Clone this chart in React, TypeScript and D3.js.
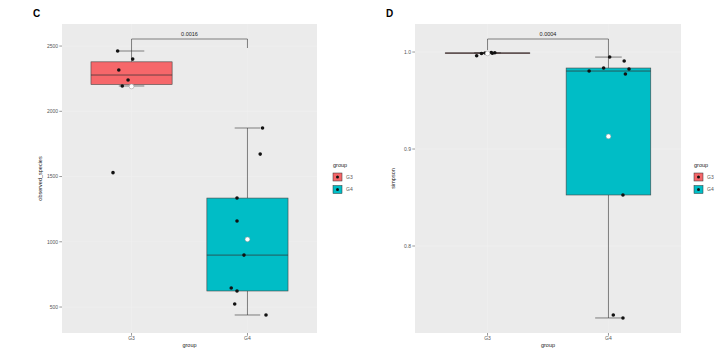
import React from 'react';
import * as d3 from 'd3';

const groups = ['G3', 'G4'];
const groupColors = ['#F6676A', '#00BDC6'];

// panel C: observed_species
const observedG3 = [2462, 2400, 2316, 2240, 2194, 1530];
const observedG3Jitter = [-0.12, 0.01, -0.11, -0.03, -0.08, -0.16];
const observedG4 = [1872, 1672, 1335, 1159, 898, 646, 623, 523, 439];
const observedG4Jitter = [0.13, 0.11, -0.09, -0.09, -0.03, -0.14, -0.09, -0.11, 0.16];
const observedTicks = [500, 1000, 1500, 2000, 2500];

// panel D: simpson
const simpsonG3 = [0.9995, 0.9992, 0.999, 0.9988, 0.9985, 0.9962];
const simpsonG3Jitter = [0.03, 0.06, -0.02, 0.04, -0.05, -0.09];
const simpsonG4 = [0.9948, 0.9907, 0.9835, 0.9825, 0.9804, 0.9773, 0.8526, 0.7289, 0.7258];
const simpsonG4Jitter = [0.01, 0.13, -0.04, 0.17, -0.16, 0.14, 0.12, 0.04, 0.12];
const simpsonTicks = [0.8, 0.9, 1.0];

const pValues = ['0.0016', '0.0004'];

function boxStats(vals: number[]) {
  const s = [...vals].sort(d3.ascending);
  const q1 = d3.quantileSorted(s, 0.25) as number;
  const med = d3.quantileSorted(s, 0.5) as number;
  const q3 = d3.quantileSorted(s, 0.75) as number;
  const iqr = q3 - q1;
  const lo = d3.min(s.filter(v => v >= q1 - 1.5 * iqr)) as number;
  const hi = d3.max(s.filter(v => v <= q3 + 1.5 * iqr)) as number;
  return { q1, med, q3, lo, hi, mean: d3.mean(s) as number };
}

type PanelProps = {
  letter: string;
  left: number;
  right: number;
  yDomain: [number, number];
  series: number[][];
  jitter: number[][];
  ticks: number[];
  fmt: (v: number) => string;
  yTitle: string;
  pLabel: string;
  tips: [number, number];
  legendX: number;
};

const top = 24;
const bottom = 333;
const tickColor = '#555';
const font = 'Liberation Sans, Arial';

function Panel(p: PanelProps) {
  const x = d3.scaleLinear().domain([0.4, 2.6]).range([p.left, p.right]);
  const y = d3.scaleLinear().domain(p.yDomain).range([bottom, top]);
  const unit = x(1) - x(0);
  const boxW = 0.7 * unit;
  const barW = 0.22 * unit;
  const stats = p.series.map(boxStats);
  const midY = (top + bottom) / 2;
  const bracketY = y(p.yDomain[1]) + 15;

  return (
    <g>
      <text x={p.left - 29} y={17} fontSize={10} fontWeight="bold" fontFamily={font}>
        {p.letter}
      </text>
      <rect x={p.left} y={top} width={p.right - p.left} height={bottom - top} fill="#EBEBEB" />
      {p.ticks.map(t => (
        <line key={'g' + t} x1={p.left} x2={p.right} y1={y(t)} y2={y(t)} stroke="#F1F1F1" strokeWidth={0.5} />
      ))}
      {groups.map((g, i) => (
        <line key={'gx' + g} x1={x(i + 1)} x2={x(i + 1)} y1={top} y2={bottom} stroke="#F1F1F1" strokeWidth={0.5} />
      ))}

      {/* boxes */}
      {stats.map((s, i) => {
        const cx = x(i + 1);
        return (
          <g key={'box' + i}>
            <line x1={cx} x2={cx} y1={y(s.hi)} y2={y(s.q3)} stroke="#333" strokeWidth={0.6} />
            <line x1={cx} x2={cx} y1={y(s.q1)} y2={y(s.lo)} stroke="#333" strokeWidth={0.6} />
            <line x1={cx - barW / 2} x2={cx + barW / 2} y1={y(s.hi)} y2={y(s.hi)} stroke="#333" strokeWidth={0.6} />
            <line x1={cx - barW / 2} x2={cx + barW / 2} y1={y(s.lo)} y2={y(s.lo)} stroke="#333" strokeWidth={0.6} />
            <rect
              x={cx - boxW / 2}
              y={y(s.q3)}
              width={boxW}
              height={Math.max(0.6, y(s.q1) - y(s.q3))}
              fill={groupColors[i]}
              stroke="#444"
              strokeWidth={0.6}
            />
            <line x1={cx - boxW / 2} x2={cx + boxW / 2} y1={y(s.med)} y2={y(s.med)} stroke="#333" strokeWidth={0.9} opacity={0.8} />
          </g>
        );
      })}

      {/* jittered points */}
      {p.series.map((vals, i) =>
        vals.map((v, j) => (
          <circle key={'pt' + i + '-' + j} cx={x(i + 1 + p.jitter[i][j])} cy={y(v)} r={1.8} fill="#111" />
        ))
      )}
      {stats.map((s, i) => (
        <circle key={'mean' + i} cx={x(i + 1)} cy={y(s.mean)} r={2.4} fill="#fff" stroke="#999" strokeWidth={0.5} />
      ))}

      {/* significance bracket */}
      <path
        d={`M${x(1)},${bracketY + p.tips[0]}V${bracketY}H${x(2)}V${bracketY + p.tips[1]}`}
        fill="none"
        stroke="#333"
        strokeWidth={0.6}
      />
      <text x={(x(1) + x(2)) / 2} y={bracketY - 3} fontSize={5.5} textAnchor="middle" fill="#222" fontFamily={font}>
        {p.pLabel}
      </text>

      {/* y axis */}
      {p.ticks.map(t => (
        <g key={'yt' + t}>
          <line x1={p.left - 2.7} x2={p.left} y1={y(t)} y2={y(t)} stroke="#333" strokeWidth={0.5} />
          <text x={p.left - 4} y={y(t)} dy="0.35em" fontSize={5} textAnchor="end" fill={tickColor} fontFamily={font}>
            {p.fmt(t)}
          </text>
        </g>
      ))}
      <text
        transform={`translate(${p.left - 20},${midY}) rotate(-90)`}
        fontSize={5.5}
        textAnchor="middle"
        fill="#222"
        fontFamily={font}
      >
        {p.yTitle}
      </text>

      {/* x axis */}
      {groups.map((g, i) => (
        <g key={'xt' + g}>
          <line x1={x(i + 1)} x2={x(i + 1)} y1={bottom} y2={bottom + 2.7} stroke="#333" strokeWidth={0.5} />
          <text x={x(i + 1)} y={bottom + 7} fontSize={5} textAnchor="middle" fill={tickColor} fontFamily={font}>
            {g}
          </text>
        </g>
      ))}
      <text x={(p.left + p.right) / 2} y={bottom + 14} fontSize={5.5} textAnchor="middle" fill="#222" fontFamily={font}>
        group
      </text>

      {/* legend */}
      <text x={p.legendX} y={167} fontSize={5.5} fill="#222" fontFamily={font}>
        group
      </text>
      {groups.map((g, i) => (
        <g key={'lg' + g}>
          <rect x={p.legendX} y={173 + i * 12.5} width={9} height={8} fill={groupColors[i]} stroke="#333" strokeWidth={0.5} />
          <circle cx={p.legendX + 4.5} cy={177 + i * 12.5} r={1.5} fill="#111" />
          <text x={p.legendX + 13} y={177 + i * 12.5} dy="0.35em" fontSize={5} fill={tickColor} fontFamily={font}>
            {g}
          </text>
        </g>
      ))}
    </g>
  );
}

export default function App() {
  return (
    <svg width={715} height={353} style={{ position: 'absolute', left: 0, top: 0, background: '#fff' }}>
      <Panel
        letter="C"
        left={62}
        right={317}
        yDomain={[301, 2669]}
        series={[observedG3, observedG4]}
        jitter={[observedG3Jitter, observedG4Jitter]}
        ticks={observedTicks}
        fmt={d3.format('d')}
        yTitle="observed_species"
        pLabel={pValues[0]}
        tips={[12, 9]}
        legendX={333}
      />
      <Panel
        letter="D"
        left={415}
        right={681}
        yDomain={[0.7103, 1.0289]}
        series={[simpsonG3, simpsonG4]}
        jitter={[simpsonG3Jitter, simpsonG4Jitter]}
        ticks={simpsonTicks}
        fmt={d3.format('.1f')}
        yTitle="simpson"
        pLabel={pValues[1]}
        tips={[11, 17]}
        legendX={694}
      />
    </svg>
  );
}
